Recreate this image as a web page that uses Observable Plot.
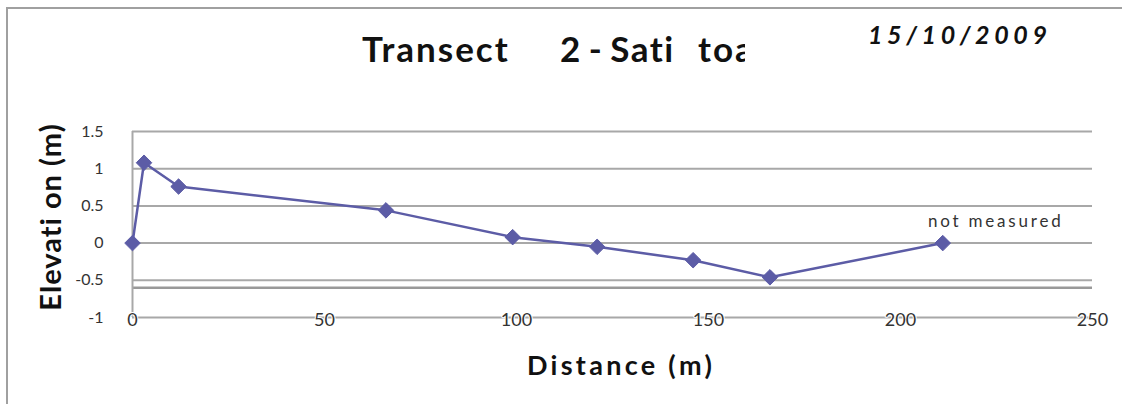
<!DOCTYPE html>
<html>
<head>
<meta charset="utf-8">
<script src="https://cdn.jsdelivr.net/npm/d3@7"></script>
<script src="https://cdn.jsdelivr.net/npm/@observablehq/plot@0.6"></script>
<style>
  html, body { margin: 0; padding: 0; background: #fff; overflow: hidden; }
  #wrap { position: relative; width: 1122px; height: 404px; overflow: hidden; font-family: Lato, "Open Sans", sans-serif; }
  #vline { position: absolute; left: 6px; top: 7px; width: 2px; height: 397px; background: #a0a0a0; }
  #hline { position: absolute; left: 6px; top: 7px; width: 1116px; height: 2px; background: #a0a0a0; }
  #chart { position: absolute; left: 0; top: 0; line-height: 0; }
  .title { position: absolute; left: 362px; top: 27px; width: 383px; overflow: hidden; white-space: pre; font-weight: 700; font-size: 35px; letter-spacing: 2px; color: #111; line-height: 1.2; }
  .title span { display: inline-block; }
  .title .w1 { width: 198px; }
  .title .w2 { width: 138px; word-spacing: -3px; letter-spacing: 1.5px; }
  .date { position: absolute; left: 868px; top: 19px; font-weight: 700; font-style: italic; font-size: 25px; letter-spacing: 4.6px; color: #111; }
  .ylab { position: absolute; left: 49px; top: 217px; transform: translate(-50%, -50%) rotate(-90deg); white-space: nowrap; font-weight: 700; font-size: 29px; letter-spacing: 1px; color: #111; }
  .xlab { position: absolute; left: 621px; top: 364px; transform: translate(-50%, -50%); white-space: nowrap; font-weight: 700; font-size: 27px; letter-spacing: 3.3px; color: #111; }
</style>
</head>
<body>
<div id="wrap">
  <div id="vline"></div>
  <div id="hline"></div>
  <div id="chart"></div>
  <div class="title"><span class="w1">Transect </span><span class="w2">2 - Sati </span><span class="w3">toa</span></div>
  <div class="date">15/10/2009</div>
  <div class="ylab">Elevati on (m)</div>
  <div class="xlab">Distance (m)</div>
</div>
<script>
// Data
const distance  = [0, 3, 12, 66, 99, 121, 146, 166, 211];
const elevation = [0, 1.08, 0.76, 0.44, 0.08, -0.05, -0.23, -0.46, 0];
const xTicks = [0, 50, 100, 150, 200, 250];
const yTicks = [-1, -0.5, 0, 0.5, 1, 1.5];
const gridY = [1.5, 1, 0.5, 0, -0.5];
const extraRuleY = [-0.6];
const noteText = ["not measured"];
const noteAt = [211];
const noteValue = [0];

const points = distance.map((d, i) => ({distance: d, elevation: elevation[i]}));
const note = noteText.map((t, i) => ({distance: noteAt[i], elevation: noteValue[i], text: t}));

const lineColor = "#5c5ca6";
const gridColor = "#a8a8a8";

const chart = Plot.plot({
  width: 1122,
  height: 404,
  marginLeft: 132,
  marginRight: 30,
  marginTop: 131,
  marginBottom: 87,
  style: {fontFamily: "Lato, 'Open Sans', sans-serif", background: "transparent"},
  x: {domain: [0, 250], axis: null},
  y: {domain: [-1, 1.5], axis: null},
  marks: [
    Plot.ruleY(gridY, {stroke: gridColor, strokeWidth: 2}),
    Plot.ruleY(extraRuleY, {stroke: "#999", strokeWidth: 2.5}),
    Plot.ruleY([-1], {stroke: gridColor, strokeWidth: 2}),
    Plot.ruleX([0], {y1: -1, y2: 1.5, stroke: gridColor, strokeWidth: 2}),
    Plot.text(yTicks, {x: 0, y: d => d, text: d => String(d), textAnchor: "end", dx: -29, fontSize: 16, fill: "#333"}),
    Plot.text(xTicks, {x: d => d, y: -1, text: d => String(d), dy: 3, fontSize: 18, fill: "#333", stroke: "white", strokeWidth: 2}),
    Plot.line(points, {x: "distance", y: "elevation", stroke: lineColor, strokeWidth: 2.5}),
    Plot.dot(points, {x: "distance", y: "elevation", symbol: "diamond2", r: 7, fill: lineColor, stroke: lineColor, strokeWidth: 1}),
    Plot.text(note, {x: "distance", y: "elevation", text: "text", dx: 53, dy: -22, fontSize: 17, fill: "#333"})
  ]
});
d3.select(chart).selectAll("text")
  .filter(function() { return this.textContent === noteText[0]; })
  .style("letter-spacing", "2.8px");
document.getElementById("chart").appendChild(chart);
</script>
</body>
</html>
